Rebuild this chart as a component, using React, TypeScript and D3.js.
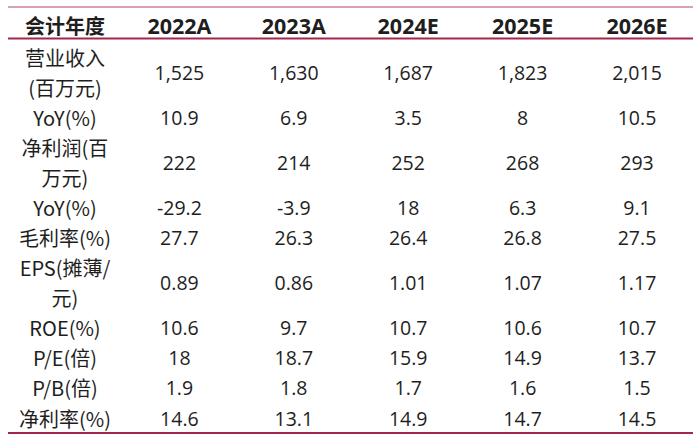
import React from "react";
import * as d3 from "d3";

const headers = ["会计年度", "2022A", "2023A", "2024E", "2025E", "2026E"];
const rowLabels: string[][] = [
  ["营业收入", "(百万元)"],
  ["YoY(%)"],
  ["净利润(百", "万元)"],
  ["YoY(%)"],
  ["毛利率(%)"],
  ["EPS(摊薄/", "元)"],
  ["ROE(%)"],
  ["P/E(倍)"],
  ["P/B(倍)"],
  ["净利率(%)"],
];
const revenue = ["1,525", "1,630", "1,687", "1,823", "2,015"];
const revenueYoY = ["10.9", "6.9", "3.5", "8", "10.5"];
const netProfit = ["222", "214", "252", "268", "293"];
const netProfitYoY = ["-29.2", "-3.9", "18", "6.3", "9.1"];
const grossMargin = ["27.7", "26.3", "26.4", "26.8", "27.5"];
const eps = ["0.89", "0.86", "1.01", "1.07", "1.17"];
const roe = ["10.6", "9.7", "10.7", "10.6", "10.7"];
const pe = ["18", "18.7", "15.9", "14.9", "13.7"];
const pb = ["1.9", "1.8", "1.7", "1.6", "1.5"];
const netMargin = ["14.6", "13.1", "14.9", "14.7", "14.5"];
const rowValues = [revenue, revenueYoY, netProfit, netProfitYoY, grossMargin, eps, roe, pe, pb, netMargin];

const W = 700;
const H = 442;
const LINE = "#a3264c";
const TEXT = "#1e1e1e";
const FONT = "'Open Sans', 'Noto Sans CJK SC', sans-serif";
const CJK = "'Noto Sans CJK SC', 'Open Sans', sans-serif";

export default function App() {
  const colX = d3.scaleLinear().domain([0, 5]).range([65, 637]);
  let idx = 0;
  const rows = rowLabels.map((lines, r) => {
    const start = idx;
    idx += lines.length;
    return { lines, start, values: rowValues[r] };
  });
  const lineY = d3.scaleLinear().domain([0, idx - 1]).range([57, 418]);

  return (
    <svg width={W} height={H} style={{ position: "fixed", left: 0, top: 0, background: "#fff" }}>
      <rect x={0} y={0} width={W} height={H} fill="#fff" />
      <line x1={8} x2={693} y1={7} y2={7} stroke={LINE} strokeWidth={1.2} opacity={0.85} />
      <line x1={8} x2={693} y1={38.5} y2={38.5} stroke={LINE} strokeWidth={2} />
      <line x1={8} x2={693} y1={433} y2={433} stroke={LINE} strokeWidth={2} />
      {headers.map((h, i) => (
        <text
          key={h}
          x={colX(i)}
          y={25}
          textAnchor="middle"
          dominantBaseline="central"
          fontFamily={i === 0 ? CJK : FONT}
          fontWeight={700}
          fontSize={i === 0 ? 20 : 21.5}
          fill={TEXT}
        >
          {h}
        </text>
      ))}
      {rows.map((row, r) => {
        const center = (lineY(row.start) + lineY(row.start + row.lines.length - 1)) / 2;
        return (
          <g key={r}>
            {row.lines.map((l, j) => (
              <text
                key={j}
                x={colX(0)}
                y={lineY(row.start + j)}
                textAnchor="middle"
                dominantBaseline="central"
                fontFamily={CJK}
                fontSize={20}
                fill={TEXT}
              >
                {l}
              </text>
            ))}
            {row.values.map((v, c) => (
              <text
                key={c}
                x={colX(c + 1)}
                y={center}
                textAnchor="middle"
                dominantBaseline="central"
                fontFamily={FONT}
                fontSize={19.5}
                fill={TEXT}
              >
                {v}
              </text>
            ))}
          </g>
        );
      })}
    </svg>
  );
}
